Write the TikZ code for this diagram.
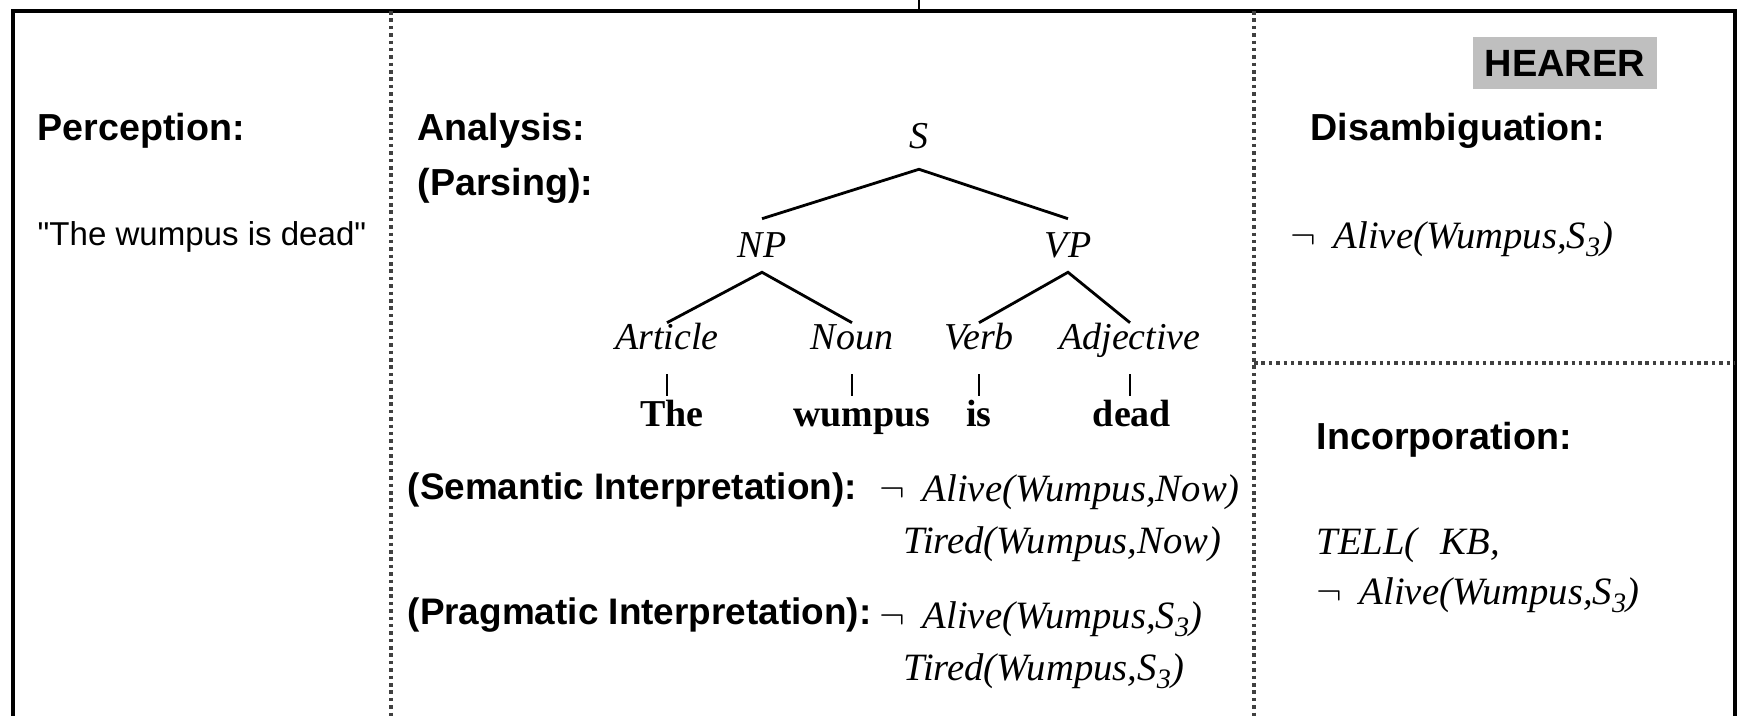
\documentclass[tikz,border=0pt]{standalone}
\usepackage{fontspec}
\setmainfont{Liberation Serif}
\setsansfont{Liberation Sans}
\usetikzlibrary{positioning}

\newcommand{\notsign}{\ensuremath{\neg}\hspace{0.45em}}
\newcommand{\lowsub}[1]{\raisebox{-0.45ex}{\fontsize{8}{9}\selectfont #1}}

\begin{document}
\begin{tikzpicture}[
    x=0.01cm, y=-0.01cm,
    head/.style={font=\fontsize{10.7}{13}\selectfont\sffamily\bfseries,
                 anchor=west, inner sep=0pt},
    midhead/.style={head, font=\fontsize{10.5}{13}\selectfont\sffamily\bfseries},
    plain/.style={font=\fontsize{9.4}{12}\selectfont\sffamily,
                  anchor=west, inner sep=0pt},
    cat/.style={font=\fontsize{10.8}{13}\selectfont\itshape, inner sep=0pt,
                text height=7.5pt, text depth=2.5pt},
    word/.style={font=\fontsize{10.8}{13}\selectfont\bfseries, inner sep=0pt,
                 text height=7.5pt, text depth=2.5pt},
    logic/.style={font=\fontsize{11}{13}\selectfont, anchor=west, inner sep=0pt},
    branch/.style={line width=0.8pt, line join=miter},
    bar/.style={line width=0.45pt, shorten <=0.15cm, shorten >=0.04cm},
    divider/.style={line width=0.9pt, black!75, dash pattern=on 1pt off 1.1pt},
    frame/.style={line width=1.4pt},
    tag/.style={fill=black!25, minimum width=1.83cm, minimum height=0.51cm,
                font=\fontsize{10.8}{13}\selectfont\sffamily\bfseries, inner sep=0pt}
]
\useasboundingbox (0,0) rectangle (1744,716);

% outer frame and column dividers
\coordinate (tl) at (13,11);
\coordinate (tr) at (1735,11);
\coordinate (bl) at (13,716);
\coordinate (br) at (1735,716);
\draw[frame] (bl) -- (tl) -- (tr) -- (br);

\coordinate (cut) at (919,0);
\draw[line width=0.6pt] (cut) -- (cut |- tl);

\coordinate (d1) at (391,11);
\coordinate (d2) at (1254,11);
\coordinate (mid) at (1254,363);
\draw[divider] (d1) -- (d1 |- bl);
\draw[divider] (d2) -- (d2 |- bl);
\draw[divider] (mid) -- (mid -| br);

% perception
\node[head] (percep) at (37,131) {Perception:};
\node[plain] (heard) at (37,237) {\textquotedbl The wumpus is dead\textquotedbl};

% analysis
\node[head] (analysis) at (417,131) {Analysis:};
\node[head] (parsing)  at (417,186) {(Parsing):};

\node[cat] (s)    at (919,140)  {S};
\node[cat] (np)   at (762,249)  {NP};
\node[cat] (vp)   at (1068,249) {VP};
\node[cat] (art)  at (667,341)  {Article};
\node[cat] (noun) at (852,341)  {Noun};
\node[cat] (verb) at (979,341)  {Verb};
\node[cat] (adj)  at (1130,341) {Adjective};

\node[word] (the)    at (672,418)  {The};
\node[word] (wumpus) at (862,418)  {wumpus};
\node[word] (is)     at (979,418)  {is};
\node[word] (dead)   at (1132,418) {dead};

\coordinate[below=0.11cm of s]  (sfork);
\coordinate[below=0.05cm of np] (npfork);
\coordinate[below=0.05cm of vp] (vpfork);
\coordinate[above=0.12cm of np] (nptop);
\coordinate[above=0.12cm of vp] (vptop);

\draw[branch] (nptop) -- (sfork) -- (vptop);
\draw[branch] (art.north) -- (npfork) -- (noun.north);
\draw[branch] (verb.north) -- (vpfork) -- (adj.north);

\draw[bar] (art.south)  -- (art.south |- the.north);
\draw[bar] (noun.south) -- (noun.south |- the.north);
\draw[bar] (verb.south) -- (verb.south |- the.north);
\draw[bar] (adj.south)  -- (adj.south |- the.north);

\node[midhead] (seman) at (407,490) {(Semantic Interpretation):};
\node[logic] (semalive) at (879,492) {\notsign\textit{Alive(Wumpus,Now)}};
\node[logic] (semtired) at (903,544) {\textit{Tired(Wumpus,Now)}};

\node[midhead] (prag) at (407,615) {(Pragmatic Interpretation):};
\node[logic] (pragalive) at (879,619) {\notsign\textit{Alive(Wumpus,S\lowsub{3})}};
\node[logic] (pragtired) at (903,671) {\textit{Tired(Wumpus,S\lowsub{3})}};

% hearer side
\node[tag] (hearer) at (1565,63) {HEARER};
\node[head] (disamb) at (1310,131) {Disambiguation:};
\node[logic] (disalive) at (1290,239) {\notsign\textit{Alive(Wumpus,S\lowsub{3})}};

\node[head] (incorp) at (1316,440) {Incorporation:};
\node[logic] (tell) at (1316,545) {\textit{TELL(\hspace{0.6em}KB,}};
\node[logic] (incalive) at (1316,595) {\notsign\textit{Alive(Wumpus,S\lowsub{3})}};

\end{tikzpicture}
\end{document}
